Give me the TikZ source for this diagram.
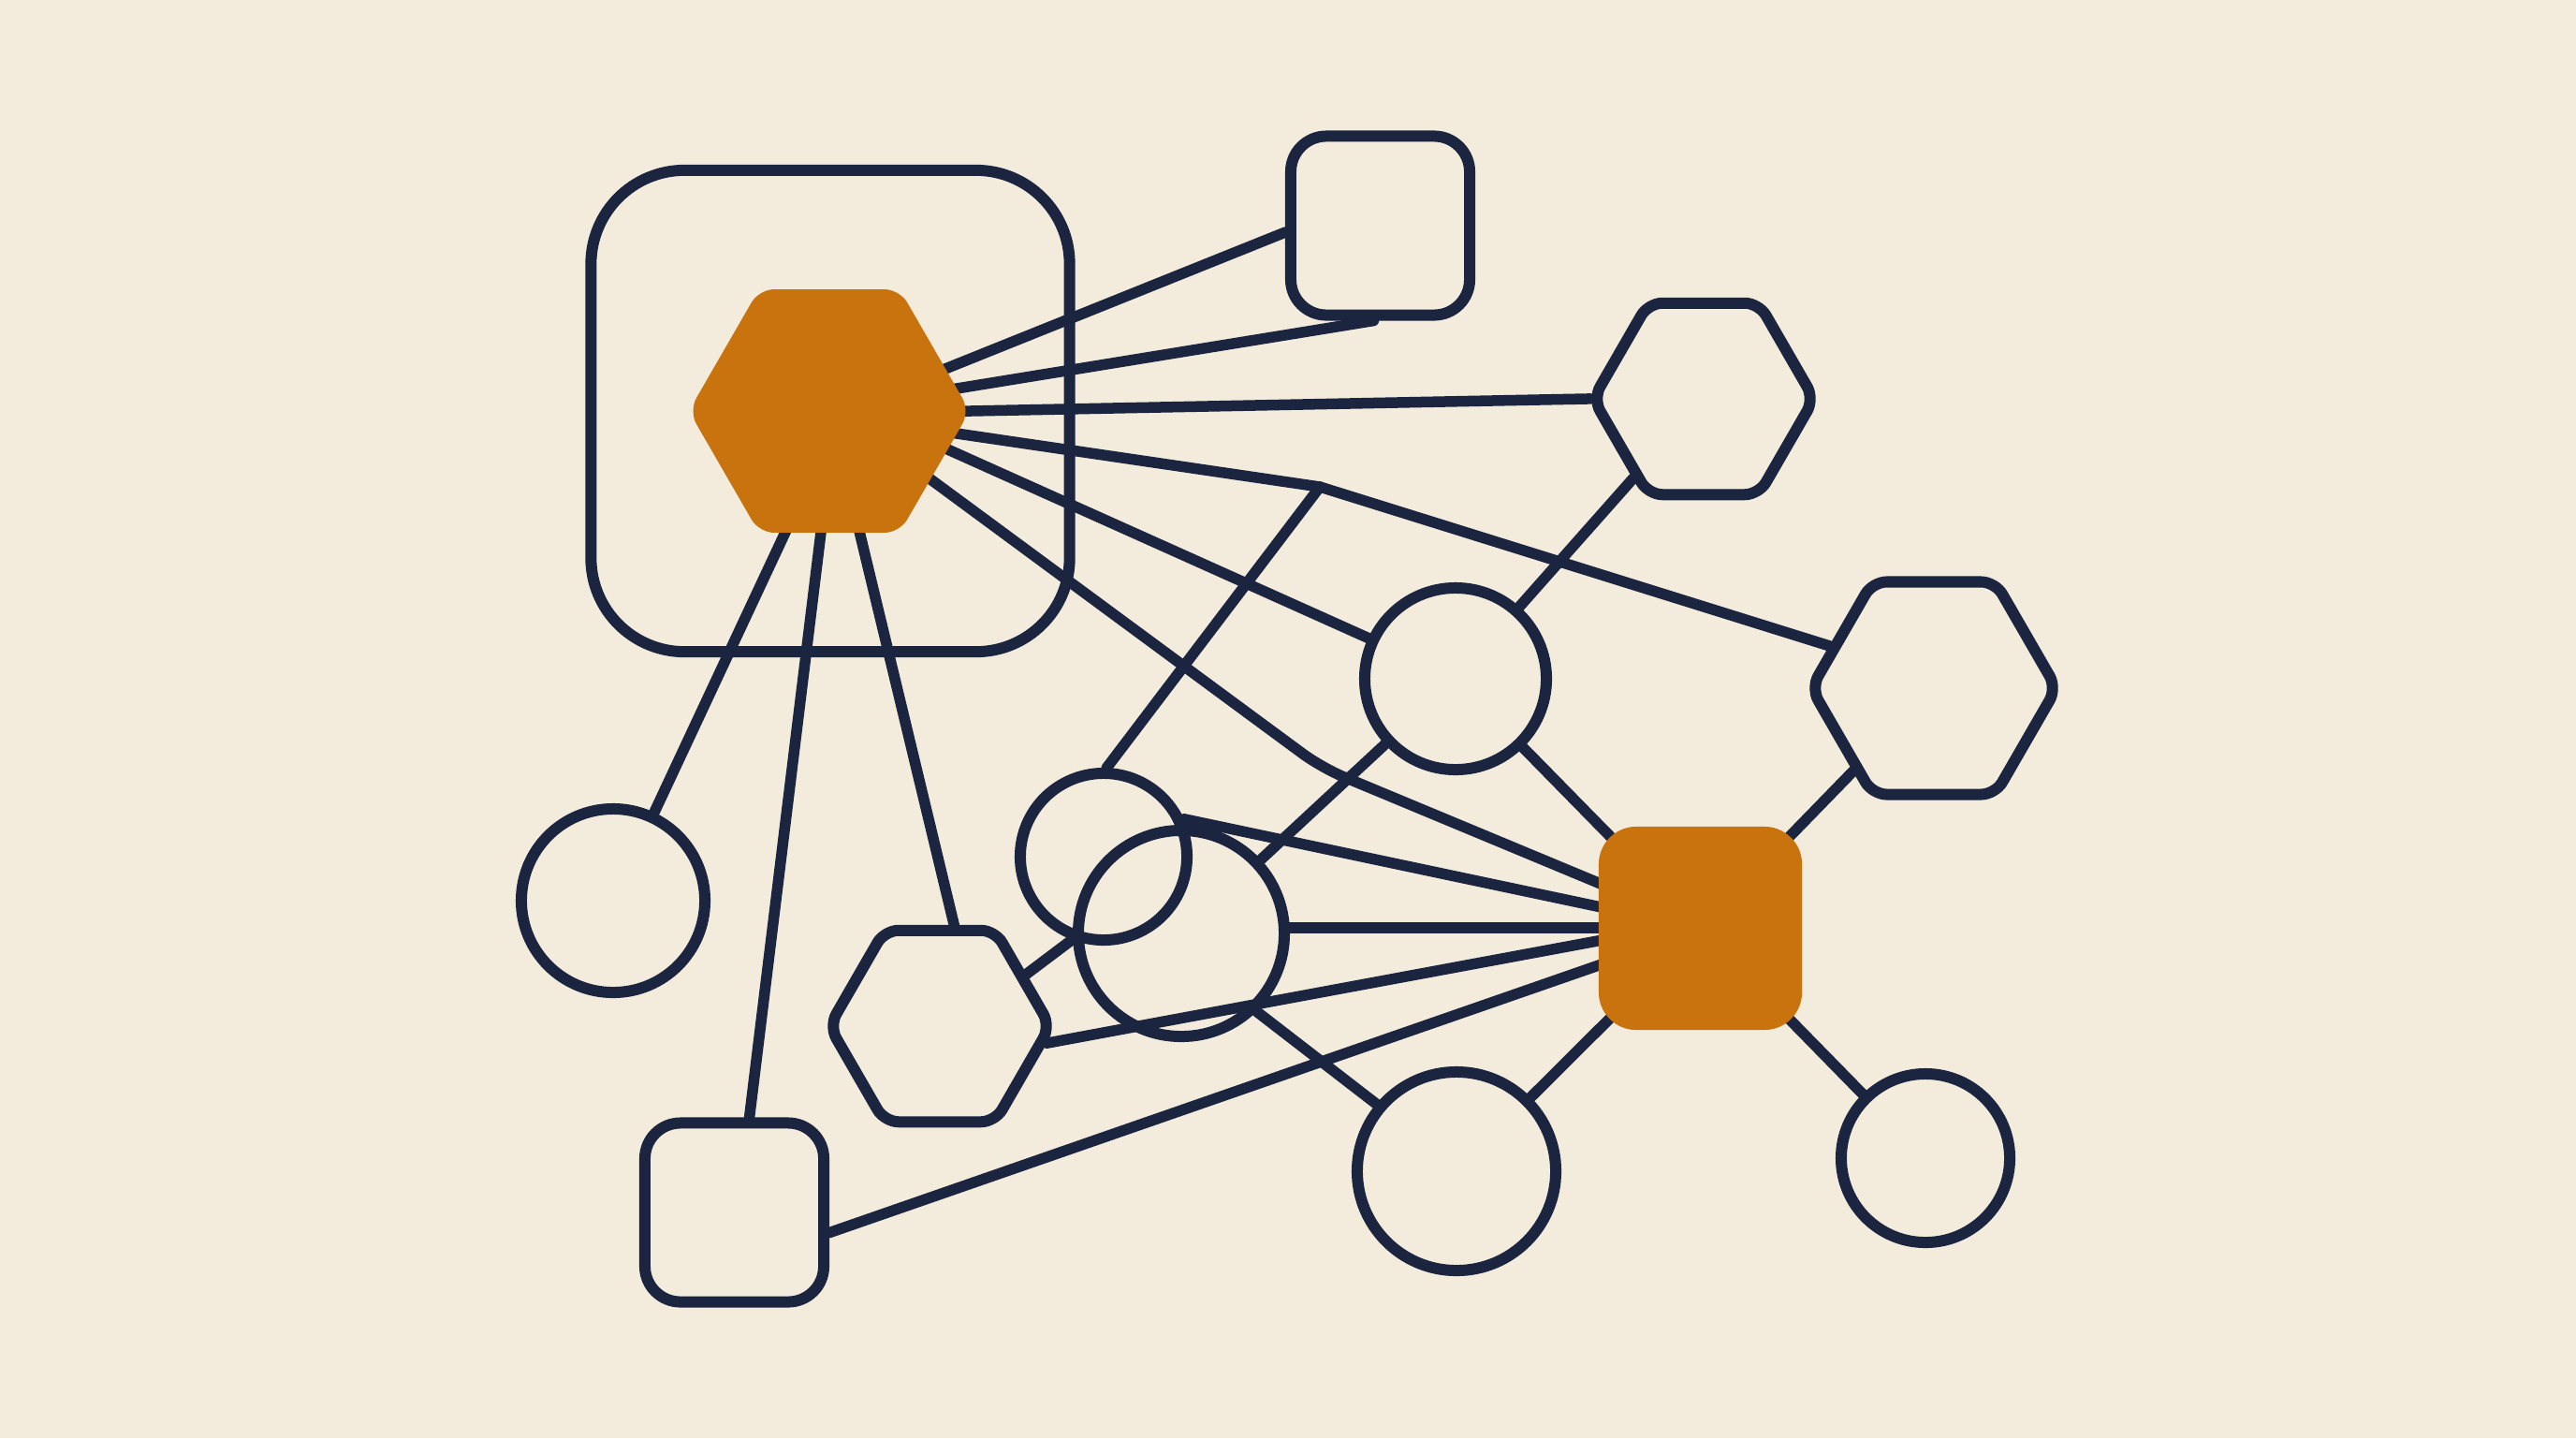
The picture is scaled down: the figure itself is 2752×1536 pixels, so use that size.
\documentclass[tikz,border=0pt]{standalone}
\usetikzlibrary{shapes.geometric}
\definecolor{paper}{HTML}{F3EBDB}
\definecolor{ink}{HTML}{1B2540}
\definecolor{amber}{HTML}{C8730E}
\pgfdeclarelayer{paperlayer}
\pgfdeclarelayer{wires}
\pgfsetlayers{paperlayer,wires,main}
\begin{document}
\begin{tikzpicture}[x=0.01cm,y=-0.01cm,
  wire/.style={draw=ink, line width=0.115cm, line join=round, line cap=round},
  fromA/.style={shorten <=-0.25cm},
  toO/.style={shorten >=-0.25cm},
  outl/.style={draw=ink, line width=0.12cm, fill=none, inner sep=0pt},
  hexo/.style={outl, regular polygon, regular polygon sides=6, rounded corners=0.15cm},
  circo/.style={outl, circle},
  sqo/.style={outl, rectangle, rounded corners=0.38cm},
  hexf/.style={regular polygon, regular polygon sides=6, fill=amber, draw=none, inner sep=0pt, rounded corners=0.16cm},
  sqf/.style={rectangle, fill=amber, draw=none, inner sep=0pt, rounded corners=0.4cm}]
\useasboundingbox (0,0) rectangle (2752,1536);
\begin{pgfonlayer}{paperlayer}
\fill[paper] (0,0) rectangle (2752,1536);
\end{pgfonlayer}

\node[outl, rectangle, rounded corners=1cm, minimum width=5.11cm, minimum height=5.14cm] (frame) at (887,439) {};
\node[hexf, minimum size=3cm] (hexA) at (886,439) {};
\node[sqo, minimum size=1.91cm] (sqT) at (1474.5,241) {};
\node[hexo, minimum size=2.36cm] (hexB) at (1820,426) {};
\node[hexo, minimum size=2.62cm] (hexC) at (2066,735) {};
\node[circo, minimum size=1.94cm] (c6) at (1555,725) {};
\node[sqf, minimum size=2.17cm] (sqO) at (1816.5,991.5) {};
\node[circo, minimum size=1.96cm] (c8) at (655,962) {};
\node[hexo, minimum size=2.36cm] (hexD) at (1004,1096) {};
\node[circo, minimum size=1.78cm] (c10) at (1179,915) {};
\node[circo, minimum size=2.2cm] (c11) at (1262,997) {};
\node[circo, minimum size=2.12cm] (c12) at (1556,1251) {};
\node[circo, minimum size=1.8cm] (c13) at (2057,1237) {};
\node[sqo, minimum size=1.91cm] (sqL) at (784.5,1295) {};
\coordinate (J1) at (1410,520);
\coordinate (J2) at (1412,820);

\begin{pgfonlayer}{wires}
\draw[wire, fromA] (hexA.20) -- (sqT.184);
\draw[wire, fromA] (hexA.10) -- (sqT.266);
\draw[wire, fromA, shorten >=-0.04cm] (hexA.0) -- (hexB.180);
\draw[wire, fromA] (hexA.-10) -- (J1) -- (hexC.158);
\draw[wire] (J1) -- (c10.88);
\draw[wire, fromA] (hexA.-18) -- (c6.155);
\draw[wire, fromA, toO, rounded corners=0.25cm] (hexA.-34) -- (J2) -- (sqO.156);
\draw[wire, fromA] (hexA.250) -- (c8.65);
\draw[wire, fromA] (hexA.266) -- (sqL.81);
\draw[wire, fromA] (hexA.284) -- (hexD.82);
\draw[wire] (hexB) -- (c6);
\draw[wire] (hexC) -- (sqO.center);
\draw[wire] (c6) -- (sqO.center);
\draw[wire] (c6) -- (c11);
\draw[wire, toO] (c10.25) -- (sqO.168);
\draw[wire, toO] (c11.3) -- (c11.3 -| sqO.west);
\draw[wire, toO] (hexD.-9) -- (sqO.187);
\draw[wire, toO] (sqL.-12) -- (sqO.200);
\draw[wire] (hexD.31) -- (c11.183);
\draw[wire] (c11.-46) -- (c12.140);
\draw[wire] (sqO.center) -- (c12);
\draw[wire] (sqO.center) -- (c13);
\end{pgfonlayer}
\end{tikzpicture}
\end{document}
